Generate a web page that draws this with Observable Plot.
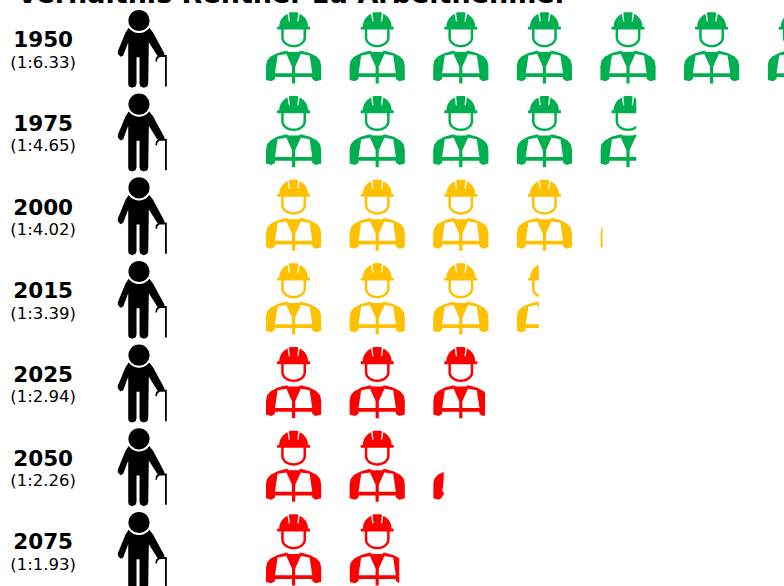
<!DOCTYPE html>
<html>
<head>
<meta charset="utf-8">
<script src="https://cdn.jsdelivr.net/npm/d3@7"></script>
<script src="https://cdn.jsdelivr.net/npm/@observablehq/plot@0.6"></script>
<style>
html,body{margin:0;padding:0;background:#fff;overflow:hidden}
#title{position:absolute;left:17px;top:-21px;font:bold 27px "DejaVu Sans",sans-serif;line-height:30px;white-space:nowrap;color:#000;z-index:2}
</style>
</head>
<body>
<div id="title">Verhältnis Rentner zu Arbeitnehmer</div>
<div id="chart"></div>
<script>
const years = ["1950","1975","2000","2015","2025","2050","2075"];
const ratios = [6.33,4.65,4.02,3.39,2.94,2.26,1.93];
const ratioLabels = ["(1:6.33)","(1:4.65)","(1:4.02)","(1:3.39)","(1:2.94)","(1:2.26)","(1:1.93)"];
// Visible share of each row's last icon.
const lastIconShare = [0.33,0.65,0.04,0.40,0.94,0.19,0.90];
const bands = ["gruen","gruen","gelb","gelb","rot","rot","rot"];
const bandNames = ["gruen","gelb","rot"];
const bandColors = ["#00B050","#FFC000","#FF0000"];

const iconW = 55.2;

function poly(c, pts){ c.moveTo(pts[0][0],pts[0][1]); for(let i=1;i<pts.length;i++) c.lineTo(pts[i][0],pts[i][1]); c.closePath(); }
const flip = pts => pts.map(([x,y])=>[-x,y]).reverse();
const rad = a => a*Math.PI/180;
const worker = {
  draw(c, size){
    const k = Math.sqrt(size/Math.PI)/28;
    const P = pts => poly(c, pts.map(([x,y])=>[x*k,y*k]));
    // helmet brim
    P([[-16.5,-20.8],[16.5,-20.8],[16.5,-18],[-16.5,-18]]);
    // helmet dome: left shell, crown, right shell
    const arc=[];
    for(let a=180;a<=245;a+=5) arc.push([14.4*Math.cos(rad(a)),-20.8+14.2*Math.sin(rad(a))]);
    const domeL=[...arc,[-4.9,-26],[-3.7,-26],[-3.7,-20.8]];
    P(domeL);
    P([[-3.7,-26],[-4.7,-34.4],[-3.6,-35.2],[3.6,-35.2],[4.7,-34.4],[3.7,-26],[3.7,-20.8],[-3.7,-20.8]]);
    P(flip(domeL));
    // head ring (U shape)
    const outer=[],inner=[];
    for(let a=180;a>=0;a-=10) outer.push([12.4*Math.cos(rad(a)),-9.8+9.6*Math.sin(rad(a))]);
    for(let a=0;a<=180;a+=10) inner.push([9.9*Math.cos(rad(a)),-9.8+7.2*Math.sin(rad(a))]);
    P([[-12.4,-19],...outer,[12.4,-19],[9.9,-19],...inner,[-9.9,-19]].reverse());
    // collar
    P([[-6.8,3],[-5,4.4],[5,4.4],[6.8,3],[7.3,6.7],[-7.3,6.7]]);
    // left side: shoulder, sleeve
    const side=[[-7.3,6.6],[-16,8],[-18.6,25.6],[-18.6,31.6],[-22,33.8],[-27.6,32.4],[-27.6,18.5],[-26.5,13],[-23,9],[-16,5.4],[-7,3]];
    P(side);
    P(flip(side));
    // tie and stem
    P([[-7.3,6.4],[7.3,6.4],[1.6,19],[1.6,36],[-1.6,36],[-1.6,19]]);
    // waist bar
    P([[-18.6,25.8],[18.6,25.8],[18.6,29.6],[-18.6,29.6]]);
  }
};

const senior = {
  draw(c, size){
    const k = Math.sqrt(size/Math.PI)/28;
    const P = pts => poly(c, pts.map(([x,y])=>[x*k,y*k]));
    c.moveTo(10.6*k,-27*k); c.arc(0,-27*k,10.6*k,0,2*Math.PI); c.closePath();
    const crescent=[];
    for(let a=145;a>=35;a-=10) crescent.push([12.6*Math.cos(rad(a)),-27+12.6*Math.sin(rad(a))]);
    const body=[...crescent,[14,-15],[25.5,6.3],[24.8,9],[20.8,9.7],[18.2,8],[9.8,-5.3],[9.2,36.3],[8.2,39],[4.8,40.3],[1.5,39],[0.5,36.3],[0.5,9.7],[-2.5,9.7],[-2.5,36.3],[-3.5,39],[-6.8,40.3],[-10.2,39],[-10.8,36.3],[-10.8,-5.3],[-15.8,8],[-18.5,9.3],[-21.2,6.3],[-21.2,3.7],[-13.5,-15]];
    P(body);
    P([[26,7.6],[27.8,7.6],[27.8,39],[26,39],[26,9.6],[20.5,9.6],[18.4,11.5],[18,14],[16.4,14],[16.8,10.4],[19,8]]);
  }
};

const rows = years.map((year,i)=>({year, ratio:ratios[i], label:ratioLabels[i], band:bands[i], last:lastIconShare[i]}));
const workers = rows.flatMap(r=>{
  const n = Math.ceil(r.ratio);
  return d3.range(n).map(slot=>({year:r.year, slot, band:r.band, share:slot===n-1?r.last:1}));
});

function clipByShare(index, scales, values, dims, ctx, next){
  const g = next(index, scales, values, dims, ctx);
  const sel = d3.select(g);
  const defs = sel.insert("defs",":first-child");
  sel.selectAll("path").each(function(_,n){
    const i = index[n], share = workers[i].share;
    if(share>=1) return;
    const id = `clip-share-${i}`;
    defs.append("clipPath").attr("id",id).append("rect")
      .attr("x",-iconW/2).attr("y",-50).attr("width",iconW*share).attr("height",100);
    d3.select(this).attr("clip-path",`url(#${id})`);
  });
  return g;
}

const plot = Plot.plot({
  width:784, height:586,
  margin:0,
  style:{background:"transparent",overflow:"hidden"},
  x:{domain:[0,784/83.6],range:[0,784],axis:null},
  y:{type:"point",domain:years,range:[47,549],padding:0,round:false,axis:null},
  color:{domain:bandNames,range:bandColors},
  marks:[
    Plot.text(rows,{x:0.51,y:"year",text:"year",dy:-7,fill:"#000",fontSize:21.5,fontWeight:"bold",fontFamily:"DejaVu Sans"}),
    Plot.text(rows,{x:0.51,y:"year",text:"label",dy:15,fill:"#000",fontSize:16.5,fontFamily:"DejaVu Sans"}),
    Plot.dot(rows,{x:1.657,y:"year",r:28,symbol:senior,fill:"#000",stroke:"none"}),
    Plot.dot(workers,{x:d=>d.slot+3.506,y:"year",r:28,symbol:worker,fill:"band",stroke:"none",render:clipByShare})
  ]
});
document.getElementById("chart").appendChild(plot);
</script>
</body>
</html>
